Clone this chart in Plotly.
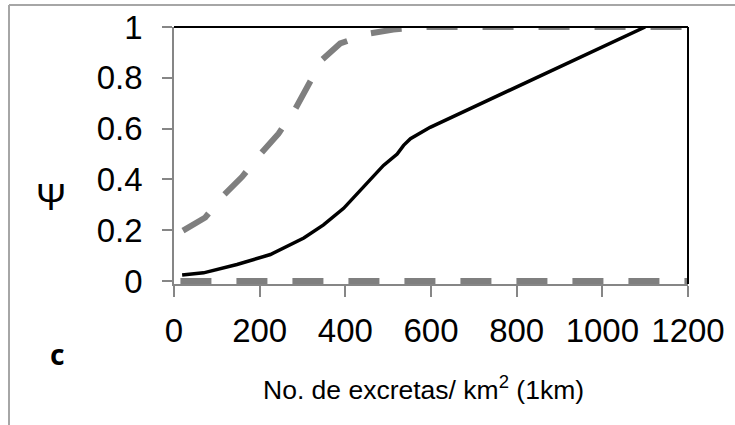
import plotly.graph_objects as go

# ---- data ----
mean_x = [19, 69, 147, 225, 303, 349, 396, 443, 489, 521, 536, 552, 598, 1100]
mean_y = [0.023, 0.032, 0.065, 0.104, 0.169, 0.221, 0.286, 0.371, 0.455, 0.50, 0.534, 0.56, 0.605, 1.0]

upper_x = [21, 73, 116, 159, 202, 244, 283, 311, 346, 388, 454, 512, 582, 1200]
upper_y = [0.198, 0.25, 0.338, 0.41, 0.50, 0.58, 0.677, 0.768, 0.872, 0.935, 0.974, 0.99, 1.0, 1.0]

lower_x = [15, 1200]
lower_y = [0.0, 0.0]

x_ticks = [0, 200, 400, 600, 800, 1000, 1200]
y_ticks = [0, 0.2, 0.4, 0.6, 0.8, 1.0]
y_tick_text = ["0", "0.2", "0.4", "0.6", "0.8", "1"]

# ---- layout geometry ----
W, H = 735, 425
L, R, T, B = 174, 47, 27, 141
PW, PH = W - L - R, H - T - B


def px_x(p):
    return (p - L) / PW


def px_y(p):
    return (H - B - p) / PH


FONT = "Liberation Sans, Arial, sans-serif"
AX = "#868686"
DASH = "#7f7f7f"
FRAME = "#a6a6a6"

fig = go.Figure()
fig.add_trace(go.Scatter(x=lower_x, y=lower_y, mode="lines",
                         line=dict(color=DASH, width=6, dash="31px,25px"),
                         showlegend=False, hoverinfo="skip"))
fig.add_trace(go.Scatter(x=upper_x, y=upper_y, mode="lines",
                         line=dict(color=DASH, width=6, dash="31px,25px"),
                         showlegend=False, hoverinfo="skip"))
fig.add_trace(go.Scatter(x=mean_x, y=mean_y, mode="lines",
                         line=dict(color="black", width=3.5),
                         showlegend=False, hoverinfo="skip"))

fig.update_layout(
    width=W, height=H,
    margin=dict(l=L, r=R, t=T, b=B, autoexpand=False),
    paper_bgcolor="white", plot_bgcolor="white",
    font=dict(family=FONT, color="black"),
    xaxis=dict(range=[0, 1200], tickvals=x_ticks, ticks="outside", ticklen=11,
               tickcolor=AX, tickwidth=1.5, showline=True, linecolor=AX, linewidth=1.5,
               showgrid=False, zeroline=False, automargin=False,
               tickfont=dict(size=33, family=FONT, color="black"),
               ticklabelstandoff=6),
    yaxis=dict(range=[-0.012, 1.0], tickvals=y_ticks, ticktext=y_tick_text, ticks="outside",
               ticklen=10, tickcolor=AX, tickwidth=1.5, showline=True, linecolor=AX,
               linewidth=1.5, showgrid=False, zeroline=False, automargin=False,
               tickfont=dict(size=33, family=FONT, color="black"), ticklabelstandoff=13),
    shapes=[
        dict(type="line", xref="x domain", yref="y domain", x0=0, x1=1, y0=1, y1=1,
             line=dict(color="black", width=2)),
        dict(type="line", xref="x domain", yref="y domain", x0=1, x1=1, y0=0, y1=1,
             line=dict(color="black", width=2)),
        dict(type="line", xref="paper", yref="paper", x0=px_x(9), x1=px_x(9),
             y0=px_y(5), y1=px_y(430), line=dict(color=FRAME, width=2)),
        dict(type="line", xref="paper", yref="paper", x0=px_x(9), x1=px_x(740),
             y0=px_y(5), y1=px_y(5), line=dict(color=FRAME, width=2)),
    ],
    annotations=[
        dict(text="Ψ", xref="paper", yref="paper", x=px_x(51), y=px_y(197),
             xanchor="center", yanchor="middle", showarrow=False,
             font=dict(size=36, family=FONT, color="black")),
        dict(text="<b>c</b>", xref="paper", yref="paper", x=px_x(57), y=px_y(354),
             xanchor="center", yanchor="middle", showarrow=False,
             font=dict(size=28, family="Noto Sans, sans-serif", color="black")),
        dict(text="No. de excretas/ km<sup>2</sup> (1km)", xref="paper", yref="paper",
             x=px_x(423), y=px_y(388), xanchor="center", yanchor="middle", showarrow=False,
             font=dict(size=26.5, family=FONT, color="black")),
    ],
)

fig.write_html("out.html", config={"displayModeBar": False},
               post_script="document.body.style.margin='0';")
